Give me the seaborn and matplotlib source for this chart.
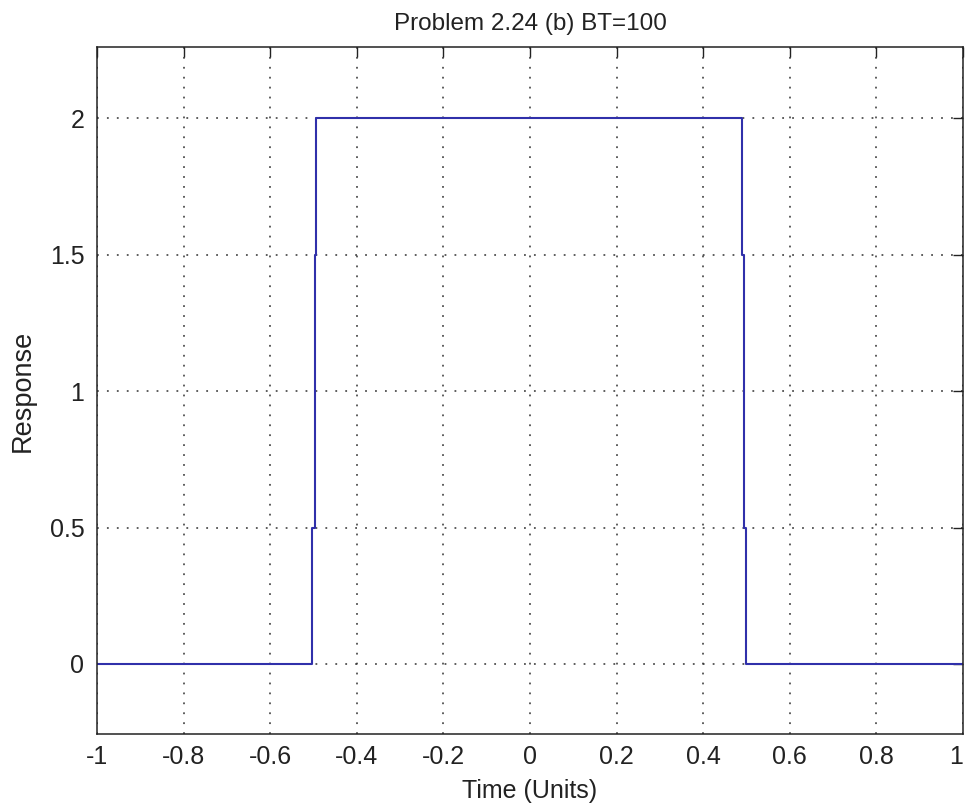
import numpy as np
import pandas as pd
import matplotlib
matplotlib.use("Agg")
import matplotlib.pyplot as plt
import seaborn as sns

# step response samples
time = [-1.0, -0.504, -0.4975, -0.4945, 0.4905, 0.4935, 0.4985, 1.0]
response = [0.0, 0.5, 1.5, 2.0, 1.5, 0.5, 0.0, 0.0]

xticks = [-1, -0.8, -0.6, -0.4, -0.2, 0, 0.2, 0.4, 0.6, 0.8, 1]
xlabels = ["-1", "-0.8", "-0.6", "-0.4", "-0.2", "0", "0.2", "0.4", "0.6", "0.8", "1"]
yticks = [0, 0.5, 1, 1.5, 2]
ylabels = ["0", "0.5", "1", "1.5", "2"]

sns.set_style("white")
plt.rcParams['font.family'] = ['Liberation Sans', 'DejaVu Sans']

df = pd.DataFrame({'t': time, 'r': response})

fig = plt.figure(figsize=(9.67, 8.05), dpi=100)
ax = fig.add_axes([0.1003, 0.0882, 0.8956, 0.8534])

sns.lineplot(data=df, x='t', y='r', ax=ax, color='#3030aa', linewidth=1.5,
             drawstyle='steps-post', estimator=None, sort=False)

ax.set_xlim(-1, 1)
ax.set_ylim(-0.2566, 2.261)
ax.set_xticks(xticks)
ax.set_xticklabels(xlabels)
ax.set_yticks(yticks)
ax.set_yticklabels(ylabels)
ax.tick_params(direction='in', top=True, right=True, length=7, width=1,
               labelsize=18, color='#222222', labelcolor='#222222')
ax.tick_params(axis='x', pad=8)
ax.tick_params(axis='y', pad=9)
# last x label sits at the right edge of the figure; keep it inside
ax.get_xticklabels()[-1].set_horizontalalignment('right')
ax.grid(True, linestyle=(0, (1, 4.5)), color='#333333', linewidth=1.3, alpha=0.85)
for s in ax.spines.values():
    s.set_color('#222222')
    s.set_linewidth(1.1)

ax.set_title("Problem 2.24 (b) BT=100", fontsize=17.5, pad=12, color='#222222')
ax.set_xlabel("Time (Units)", fontsize=18, labelpad=7, color='#222222')
ax.set_ylabel("Response", fontsize=19.5, labelpad=10, color='#222222')

fig.savefig("out.png", dpi=100, facecolor='white')
